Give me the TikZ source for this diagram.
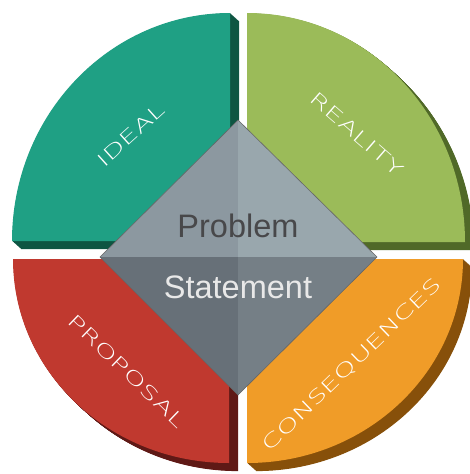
\documentclass[tikz,border=0pt]{standalone}
\usepackage{fontspec}
\setmainfont{Liberation Sans}
\newfontfamily\labfont[FakeStretch=1.55]{DejaVu Sans ExtraLight}
\definecolor{teal1}{RGB}{31,160,132}
\definecolor{teal2}{RGB}{14,85,66}
\definecolor{green1}{RGB}{155,187,89}
\definecolor{green2}{RGB}{80,105,40}
\definecolor{red1}{RGB}{192,57,47}
\definecolor{red2}{RGB}{95,25,22}
\definecolor{orange1}{RGB}{240,156,40}
\definecolor{orange2}{RGB}{135,80,10}
\definecolor{dTL}{RGB}{140,152,160}
\definecolor{dTR}{RGB}{153,167,173}
\definecolor{dBL}{RGB}{103,112,120}
\definecolor{dBR}{RGB}{117,127,134}
\definecolor{probc}{RGB}{72,72,74}
\definecolor{statc}{RGB}{232,232,232}
\tikzset{
  lab/.style={text=white, inner sep=0pt, font=\labfont\fontsize{18.5}{18.5}\selectfont},
  midtext/.style={inner sep=0pt, anchor=base, font=\fontsize{32.5}{32.5}\selectfont},
}
\newcommand{\tealshape}{(230,241) -- (12,241) arc[start angle=180,end angle=270,x radius=218,y radius=228] -- cycle}
\newcommand{\greenshape}{(247,242) -- (247,13) arc[start angle=270,end angle=360,x radius=218,y radius=229] -- cycle}
\newcommand{\redshape}{(229,259) -- (13,259) arc[start angle=180,end angle=90,x radius=216,y radius=204] -- cycle}
\newcommand{\orangeshape}{(247,259) -- (463,259) arc[start angle=0,end angle=90,x radius=216,y radius=204] -- cycle}
\begin{document}
\begin{tikzpicture}[x=1pt,y=-1pt]
\useasboundingbox (0,0) rectangle (469,474);
% extrusions
\foreach \s in {0.5,1,...,9}{
  \fill[teal2,shift={(\s,0.9*\s)}] \tealshape;
  \fill[green2,shift={(\s,0.9*\s)}] \greenshape;
  \fill[red2,shift={(\s,0.9*\s)}] \redshape;
  \fill[orange2,shift={(\s,0.9*\s)}] \orangeshape;
}
% faces
\fill[teal1] \tealshape;
\fill[green1] \greenshape;
\fill[red1] \redshape;
\fill[orange1] \orangeshape;
% diamond
\coordinate (C) at (238,257);
\coordinate (T) at (238,120);
\coordinate (L) at (100,257);
\coordinate (R) at (377,257);
\coordinate (B) at (238,395);
\fill[dTL] (C) -- (T) -- (L) -- cycle;
\fill[dTR] (C) -- (T) -- (R) -- cycle;
\fill[dBL] (C) -- (L) -- (B) -- cycle;
\fill[dBR] (C) -- (R) -- (B) -- cycle;
\draw[black!60, line width=0.6pt] (T) -- (R) -- (B) -- (L) -- cycle;
% texts
\node[midtext, text=probc] (prob) at (238,237) {Problem};
\node[midtext, text=statc] (stat) at (238,298) {Statement};
\node[lab, rotate=42] (ideal) at (131,135) {IDEAL};
\node[lab, rotate=-41] (real) at (357,134) {REALITY};
\node[lab, rotate=-44] (prop) at (127,371) {PROPOSAL};
\node[lab, rotate=44] (cons) at (352,365) {CONSEQUENCES};
\end{tikzpicture}
\end{document}
